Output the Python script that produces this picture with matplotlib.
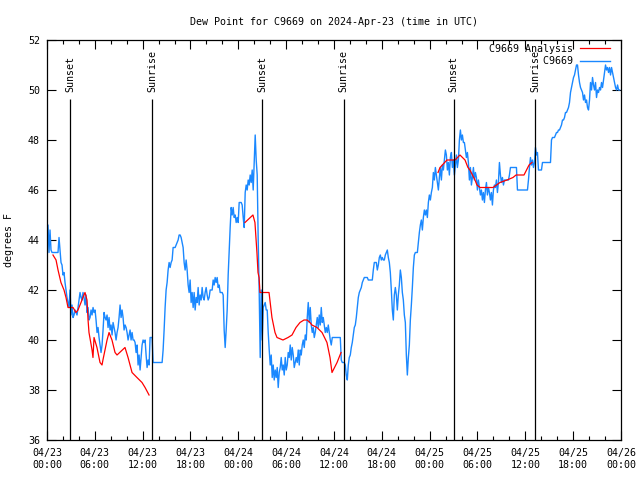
import numpy as np
import pandas as pd
import matplotlib
matplotlib.use("Agg")
import matplotlib.pyplot as plt
import matplotlib.dates as mdates

plt.rcParams['font.family'] = ['DejaVu Sans Mono']
plt.rcParams['font.size'] = 7.2

start = pd.Timestamp("2024-04-23 00:00")

# station obs, one reading every ~7.5 min from 04/23 00:00
dewpoint = [
    44.0, 44.6, 43.5, 44.4, 43.6, 43.5, 43.5, 43.5, 43.5, 43.5,
    43.5, 43.5, 44.1, 43.6, 43.1, 43.0, 42.6, 42.7, 42.3, 42.0,
    41.7, 41.5, 41.3, 42.0, 41.0, 41.4, 40.9, 41.0, 41.2, 41.1,
    41.0, 41.3, 41.6, 41.9, 41.7, 41.6, 41.9, 41.7, 41.4, 41.8,
    41.1, 41.3, 40.8, 40.9, 41.2, 41.0, 41.3, 41.1, 41.2, 40.8,
    40.3, 40.5, 40.1, 39.8, 39.5, 39.8, 40.4, 41.1, 40.9, 40.8,
    41.0, 40.5, 40.9, 40.4, 40.6, 40.2, 40.7, 40.5, 40.3, 40.0,
    40.3, 40.5, 40.9, 41.4, 40.9, 41.2, 40.9, 40.4, 40.6, 40.5,
    40.3, 40.0, 40.2, 40.4, 40.0, 40.3, 40.0, 40.0, 39.9, 39.5,
    39.8, 39.0, 39.4, 38.8, 39.3, 39.8, 40.0, 39.9, 40.0, 39.4,
    38.9, 39.2, 39.0, 40.1, 40.1, 40.1, 39.1, 39.1, 39.1, 39.1,
    39.1, 39.1, 39.1, 39.1, 39.1, 39.1, 39.6, 40.4, 41.3, 42.0,
    42.3, 42.8, 43.1, 42.9, 43.1, 43.2, 43.7, 43.7, 43.7, 43.8,
    43.9, 44.0, 44.2, 44.2, 44.1, 43.9, 43.7, 43.1, 42.8, 43.2,
    42.8, 42.2, 41.9, 42.4, 41.5, 41.9, 41.3, 41.9, 41.2, 41.7,
    41.5, 42.1, 41.4, 41.8, 41.6, 42.1, 41.7, 41.6, 41.9, 42.1,
    41.8, 41.6, 41.7, 42.0, 42.0, 42.0, 42.4, 42.2, 42.5, 42.3,
    42.5, 42.1, 42.2, 41.9, 41.9, 41.9, 41.8, 40.4, 39.7, 40.4,
    41.2, 42.6, 43.6, 44.5, 45.3, 45.0, 45.3, 44.9, 45.0, 44.7,
    44.9, 44.7, 45.5, 45.5, 45.5, 45.4, 44.9, 44.5, 45.9, 46.2,
    46.0, 46.4, 46.2, 46.6, 46.3, 46.8, 46.0, 47.1, 48.2, 47.2,
    46.6, 44.0, 41.9, 39.3, 42.0, 40.0, 41.3, 41.4, 41.5, 41.2,
    41.2, 40.3, 39.6, 39.0, 39.4, 38.5, 39.0, 38.4, 38.8, 38.5,
    38.9, 38.1, 38.7, 38.9, 39.3, 38.8, 39.0, 38.6, 39.3, 38.8,
    39.0, 39.5, 39.3, 39.8, 39.2, 39.7, 39.4, 38.9, 39.1, 39.3,
    39.1, 39.6, 39.0, 39.6, 39.4, 39.8, 40.0, 39.7, 40.2, 40.0,
    40.9, 41.5, 40.7, 41.3, 40.6, 40.3, 40.5, 40.1, 40.3, 40.6,
    40.9, 40.5, 41.0, 40.6, 41.3, 40.7, 40.9, 40.6, 40.3, 40.5,
    40.3, 40.6, 40.3, 40.0, 39.8, 40.1, 40.1, 40.1, 40.1, 40.1,
    40.1, 40.1, 40.1, 40.1, 39.2, 39.1, 39.1, 39.1, 39.0, 38.6,
    38.4, 39.0, 39.3, 39.4, 39.7, 39.9, 40.2, 40.5, 40.6, 40.9,
    41.3, 41.7, 41.9, 42.0, 42.1, 42.3, 42.4, 42.5, 42.5, 42.5,
    42.5, 42.4, 42.4, 42.4, 42.4, 42.4, 42.8, 43.1, 43.1, 43.1,
    42.8, 43.0, 43.3, 43.4, 43.2, 43.3, 43.2, 43.2, 43.4, 43.5,
    43.6, 43.3, 43.1, 42.7, 42.0, 41.2, 40.8, 41.8, 42.1, 41.8,
    41.2, 41.8, 42.2, 42.8, 42.5, 41.9, 41.6, 41.0, 40.7, 39.4,
    38.6, 39.3, 39.8, 40.8, 41.4, 42.1, 42.9, 43.4, 43.5, 43.5,
    43.5, 43.9, 44.3, 44.6, 44.8, 44.4, 44.9, 45.2, 45.0, 45.2,
    44.9, 45.5, 45.8, 45.6, 45.9, 46.1, 46.7, 46.4, 46.9, 46.6,
    46.3, 46.0, 46.5, 46.9, 46.4, 47.0, 46.8, 47.2, 47.6, 47.4,
    46.8, 47.1, 46.6, 47.3, 47.5, 46.9, 47.2, 46.6, 47.0, 47.4,
    46.9, 47.2, 48.0, 48.4, 48.0, 48.2, 47.9, 47.9, 47.6, 47.3,
    47.5, 47.1, 46.4, 46.9, 46.2, 46.5, 46.9, 46.4, 46.7, 46.5,
    46.0, 46.4, 46.1, 45.8, 46.0, 45.6, 45.9, 45.5, 46.0, 46.3,
    45.8, 46.1, 45.9, 45.6, 45.9, 45.4, 46.0, 46.2, 46.1, 46.4,
    45.9, 46.3, 47.1, 46.6, 46.3, 46.5, 46.2, 46.4, 46.4, 46.4,
    46.4, 46.4, 46.6, 46.9, 46.9, 46.9, 46.9, 46.9, 46.9, 46.9,
    46.0, 46.0, 46.0, 46.0, 46.0, 46.0, 46.0, 46.0, 46.0, 46.0,
    46.0, 46.4, 46.9, 47.3, 47.0, 47.2, 46.9, 47.1, 47.7, 47.4,
    47.5, 46.8, 46.8, 46.8, 46.8, 47.1, 47.1, 47.1, 47.1, 47.1,
    47.1, 47.1, 47.1, 47.1, 48.0, 48.1, 48.1, 48.1, 48.2, 48.3,
    48.3, 48.4, 48.4, 48.5, 48.6, 48.8, 48.8, 48.9, 49.1, 49.1,
    49.2, 49.3, 49.5, 49.9, 50.1, 50.3, 50.5, 50.6, 50.8, 51.0,
    51.0, 50.6, 50.3, 50.1, 50.0, 49.9, 49.6, 49.8, 49.5, 49.6,
    49.3, 49.2, 49.6, 50.3, 50.0, 50.5, 50.2, 50.0, 50.3, 49.7,
    50.0, 49.9, 50.1, 50.0, 50.3, 50.1, 50.4, 50.7, 51.0, 50.8,
    50.9, 50.7, 50.9, 50.6, 50.9, 50.7, 50.5, 50.3, 50.1, 50.0,
    50.2, 50.0, 50.0,
]
obs_times = pd.date_range(start, periods=len(dewpoint), freq="452s")

# analysis: minutes after 04/23 00:00 (NaN = gap)
analysis_min = [
    45, 68, 83, 105, 128, 143, 158, 196, 218, 233, 256, 278, 286, 301, 309,
    316, 339, 346, 354, 376, 399, 414, 421, 452, 467, 489, 512, 527, 587,
    610, 640, 677, 715, 738, 768,
    1100,
    1490, 1550, 1565, 1580, 1588, 1596, 1603, 1671, 1693, 1716, 1731, 1776,
    1814, 1844, 1874, 1904, 1934, 1957, 1979, 1994, 2032, 2070, 2107, 2130,
    2145, 2183, 2213,
    2600,
    2943, 2958, 3010, 3071, 3108, 3146, 3168, 3183, 3221, 3236, 3259, 3311,
    3357, 3409, 3462, 3507, 3530, 3590, 3628, 3650,
]
analysis_val = [
    43.4, 43.2, 42.8, 42.3, 42.0, 41.7, 41.3, 41.3, 41.1, 41.2, 41.5, 41.8,
    41.9, 41.6, 40.8, 40.3, 39.6, 39.3, 40.1, 39.7, 39.1, 39.0, 39.2, 40.0,
    40.3, 40.0, 39.5, 39.4, 39.7, 39.3, 38.7, 38.5, 38.3, 38.1, 37.8,
    np.nan,
    44.7, 45.0, 44.7, 43.5, 42.7, 42.5, 41.9, 41.9, 40.9, 40.3, 40.1, 40.0,
    40.1, 40.2, 40.5, 40.7, 40.8, 40.8, 40.7, 40.6, 40.5, 40.3, 39.9, 39.3,
    38.7, 39.1, 39.5,
    np.nan,
    46.7, 46.9, 47.2, 47.2, 47.4, 47.2, 46.9, 46.8, 46.4, 46.2, 46.1, 46.1,
    46.1, 46.3, 46.4, 46.5, 46.6, 46.6, 47.0, 47.1,
]
analysis_times = start + pd.to_timedelta(analysis_min, unit="min")

sun_times = pd.to_datetime(["2024-04-23 02:56", "2024-04-23 13:14",
                            "2024-04-24 02:58", "2024-04-24 13:14",
                            "2024-04-25 03:01", "2024-04-25 13:13"])
sun_labels = ["Sunset", "Sunrise", "Sunset", "Sunrise", "Sunset", "Sunrise"]

fig = plt.figure(figsize=(6.4, 4.8), dpi=100)
ax = fig.add_axes([47 / 640, 40 / 480, 574 / 640, 400 / 480])

ax.plot(obs_times, dewpoint, color="#1a88ff", lw=1.0, label="C9669")
ax.plot(analysis_times, analysis_val, color="#ff0000", lw=0.9,
        label="C9669 Analysis")

ax.vlines(sun_times, 36, 49.65, color="black", lw=0.9)
for t, lab in zip(sun_times, sun_labels):
    ax.text(t, 49.9, lab, rotation=90, ha="center", va="bottom")

ax.set_xlim(start, pd.Timestamp("2024-04-26 00:00"))
ax.set_ylim(36, 52)
ax.set_yticks(range(36, 53, 2))
ax.xaxis.set_major_locator(mdates.HourLocator(byhour=[0, 6, 12, 18]))
ax.xaxis.set_minor_locator(mdates.HourLocator(interval=2))
ax.xaxis.set_major_formatter(mdates.DateFormatter("%m/%d\n%H:%M"))
ax.tick_params(which="both", direction="in", top=True, right=True)
ax.tick_params(which="major", length=6.5, width=0.8)
ax.tick_params(which="minor", length=3.2, width=0.8)
ax.tick_params(axis="x", pad=6)
ax.tick_params(axis="y", pad=5)
for s in ax.spines.values():
    s.set_linewidth(0.9)

ax.set_ylabel("degrees F", labelpad=10)
ax.set_title("Dew Point for C9669 on 2024-Apr-23 (time in UTC)",
             fontsize=7.2, pad=11)

h, l = ax.get_legend_handles_labels()
ax.legend([h[1], h[0]], ["C9669 Analysis", "         C9669"],
          loc="upper right", bbox_to_anchor=(1 - 9 / 574, 1 - 2 / 400),
          frameon=False, markerfirst=False,
          handlelength=3.0, handletextpad=0.7, borderaxespad=0.0,
          labelspacing=0.25, borderpad=0.2)

fig.savefig("out.png", dpi=100)
